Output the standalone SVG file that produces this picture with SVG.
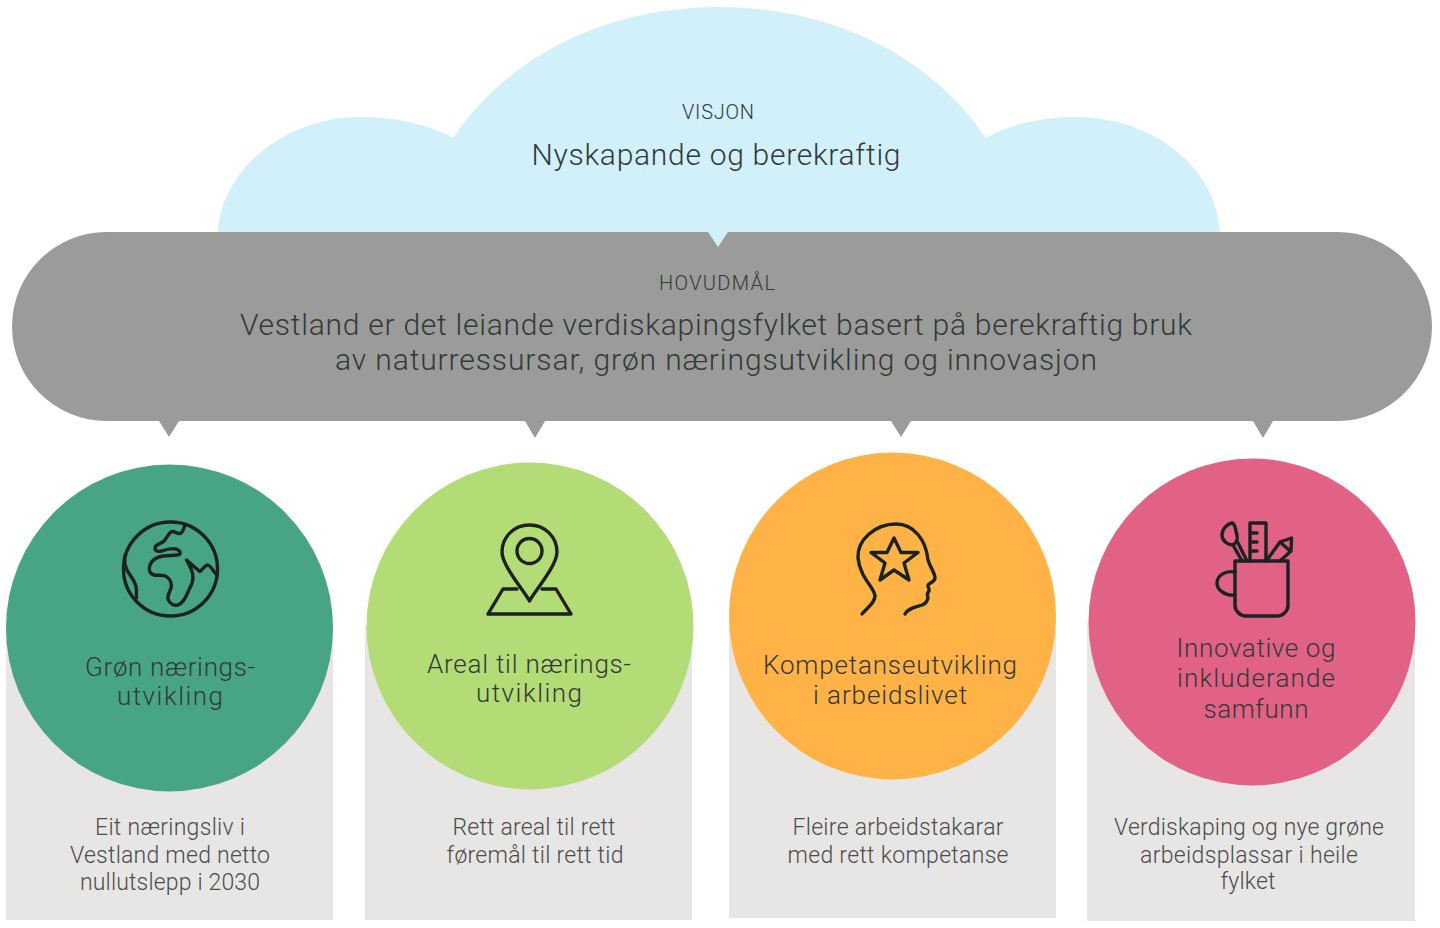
<svg xmlns="http://www.w3.org/2000/svg" width="1440" height="928" viewBox="0 0 1440 928">
<style>
text{font-family:"Roboto","Liberation Sans",sans-serif;font-weight:300;fill:#33393a;text-anchor:middle}
.s{font-size:20px}.h{font-size:30px}.m{font-size:26px}.d{font-size:23px;fill:#4a4d4d}
.card{fill:#e8e6e5}
.i{fill:none;stroke:#1c2222;stroke-width:3.4;stroke-linecap:round;stroke-linejoin:round}
</style>
<rect width="1440" height="928" fill="#fff"/>
<g id="vision">
<path d="M218 232C222 165 290 117 360 117C395 117 428 124 453 138C508 56 606 7 719 7C832 7 931 56 986 138C1011 124 1042 117 1076 117C1150 117 1216 165 1220 232Z" fill="#d2f0f9"/>
<text class="s" x="718" y="119" textLength="72">VISJON</text>
<text class="h" x="716" y="165" textLength="369">Nyskapande og berekraftig</text>
</g>
<g id="main-goal">
<rect x="12" y="232" width="1420" height="189" rx="94.5" fill="#9b9c9a"/>
<text class="s" x="717" y="290" textLength="116">HOVUDMÅL</text>
<text class="h" x="716" y="335" textLength="952">Vestland er det leiande verdiskapingsfylket basert på berekraftig bruk</text>
<text class="h" x="716" y="370" textLength="762">av naturressursar, grøn næringsutvikling og innovasjon</text>
</g>
<g id="connectors">
<path d="M708 232H728L718 247Z" fill="#d2f0f9"/>
<path d="M159 421H179L169 437Z" fill="#9b9c9a"/>
<path d="M525 421H545L535 438Z" fill="#9b9c9a"/>
<path d="M891 421H911L901 437Z" fill="#9b9c9a"/>
<path d="M1253 421H1273L1263 438Z" fill="#9b9c9a"/>
</g>
<g id="node-green">
<rect class="card" x="6" y="628" width="327" height="292"/>
<circle cx="169.500" cy="628" r="163.500" fill="#48a583"/>
<g class="i">
<circle cx="170.500" cy="569" r="47"/>
<path d="M125 556C124 562 125 566 127 570C130 576 135 580 136 587C137 591 136 595 136.500 598"/>
<path d="M185 525C183 530 183 533 180 533.500C176 534 174 530 171 532C168 534 167 538 164 541C161 544 155 544 155 548C155 551 158 552 162 551C167 549 172 548 176 549C179 550 181 552 180 554C177 556 170 555 163 556C157 557 152 560 150 565C148 570 150 574 154 575C158 576 163 574 167 577C171 580 172 584 171 588C170 592 167 595 168 599C170 604 174 606 178 605C183 603 186 597 188 592C190 587 193 584 193 577C193 571 190 566 186.500 560C190 563 195 568 200 571.500C203 569 205 565 208 565C211 566 213 571 217 575"/>
</g>
<text class="m" x="170" y="676" textLength="170">Grøn nærings-</text>
<text class="m" x="170" y="705" textLength="106">utvikling</text>
<text class="d" x="170" y="835" textLength="150">Eit næringsliv i</text>
<text class="d" x="170" y="863" textLength="200">Vestland med netto</text>
<text class="d" x="170" y="890" textLength="180">nullutslepp i 2030</text>
</g>
<g id="node-lime">
<rect class="card" x="365" y="626" width="327" height="294"/>
<circle cx="530" cy="626" r="163.500" fill="#b3db76"/>
<g class="i">
<path d="M529.500 601C525 592 502 566 502 552C502 537 514 525 529.500 525C545 525 557 537 557 552C557 566 534 592 529.500 601Z"/>
<circle cx="529.500" cy="551" r="12.500"/>
<path d="M517 589H503L488 614H571L556 589H542"/>
</g>
<text class="m" x="529" y="673" textLength="204">Areal til nærings-</text>
<text class="m" x="529" y="702" textLength="106">utvikling</text>
<text class="d" x="534" y="835" textLength="163">Rett areal til rett</text>
<text class="d" x="535" y="863" textLength="177">føremål til rett tid</text>
</g>
<g id="node-orange">
<rect class="card" x="729" y="616" width="327" height="302"/>
<circle cx="892.500" cy="616" r="163.500" fill="#ffb347"/>
<g class="i">
<path d="M862 614C867 608 875 603 875 596C875 588 860 578 858 558C857 540 875 524 896 524C914 524 926 540 928 560C930 567 935 573 935 578C935 582 929 583 928 585C927 587 930 588 929 591C927 593 927 595 928 598C927 602 925 604 922 605C916 607 908 608 905 614"/>
<path d="M894 538L901 552.500H918L904 563L909 580L894 570L880 580L885 563L871 552.500H887Z"/>
</g>
<text class="m" x="890" y="674" textLength="254">Kompetanseutvikling</text>
<text class="m" x="890" y="704" textLength="154">i arbeidslivet</text>
<text class="d" x="898" y="835" textLength="211">Fleire arbeidstakarar</text>
<text class="d" x="898" y="863" textLength="221">med rett kompetanse</text>
</g>
<g id="node-pink">
<rect class="card" x="1087" y="622" width="328" height="299"/>
<circle cx="1252" cy="622" r="163.500" fill="#e26285"/>
<g class="i">
<path d="M1235 561H1288V605C1288 611 1283 616 1277 616H1246C1240 616 1235 611 1235 605Z"/>
<path d="M1235 572C1225 570 1217 576 1217 583C1217 590 1225 596 1235 595"/>
<path d="M1250 561V523H1266V561M1250 533H1257M1250 542H1257M1250 551H1257"/>
<path d="M1267 560L1280 542L1291.500 538L1291 551L1280 561M1280 542L1289 550"/>
<path d="M1233 545C1228 545 1222 541 1222 535C1222 529 1227 524 1232 523C1236 524 1235 530 1237 535C1238 539 1236 543 1233 545ZM1233 545L1242 561M1237.500 542L1247 561"/>
</g>
<text class="m" x="1256" y="657" textLength="159">Innovative og</text>
<text class="m" x="1256" y="687" textLength="158">inkluderande</text>
<text class="m" x="1256" y="718" textLength="105">samfunn</text>
<text class="d" x="1249" y="835" textLength="270">Verdiskaping og nye grøne</text>
<text class="d" x="1249" y="863" textLength="218">arbeidsplassar i heile</text>
<text class="d" x="1248" y="889" textLength="55">fylket</text>
</g>
</svg>
